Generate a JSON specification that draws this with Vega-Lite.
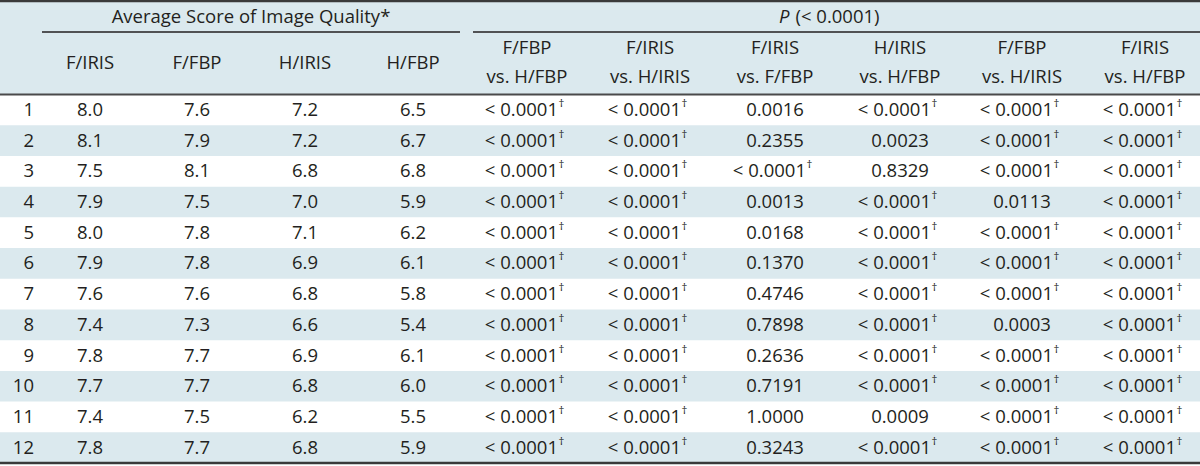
{
  "$schema": "https://vega.github.io/schema/vega-lite/v6.json",
  "width": 1200,
  "height": 466,
  "padding": 0,
  "autosize": {"type": "none"},
  "background": "white",
  "config": {
    "view": {"stroke": null},
    "text": {"font": "Open Sans", "fontSize": 18.5, "color": "#231f20"},
    "axis": {"disable": true}
  },
  "datasets": {
    "rows": [
      {"row": 1}, {"row": 2}, {"row": 3}, {"row": 4}, {"row": 5}, {"row": 6},
      {"row": 7}, {"row": 8}, {"row": 9}, {"row": 10}, {"row": 11}, {"row": 12}
    ],
    "avgHeaders": [
      {"col": 1, "text": "F/IRIS"},
      {"col": 2, "text": "F/FBP"},
      {"col": 3, "text": "H/IRIS"},
      {"col": 4, "text": "H/FBP"}
    ],
    "pHeaders": [
      {"col": 5, "top": "F/FBP", "bottom": "vs. H/FBP"},
      {"col": 6, "top": "F/IRIS", "bottom": "vs. H/IRIS"},
      {"col": 7, "top": "F/IRIS", "bottom": "vs. F/FBP"},
      {"col": 8, "top": "H/IRIS", "bottom": "vs. H/FBP"},
      {"col": 9, "top": "F/FBP", "bottom": "vs. H/IRIS"},
      {"col": 10, "top": "F/IRIS", "bottom": "vs. H/FBP"}
    ],
    "cells": [
      {"row": 1, "col": 1, "text": "8.0", "dag": 0},
      {"row": 1, "col": 2, "text": "7.6", "dag": 0},
      {"row": 1, "col": 3, "text": "7.2", "dag": 0},
      {"row": 1, "col": 4, "text": "6.5", "dag": 0},
      {"row": 1, "col": 5, "text": "< 0.0001", "dag": 1},
      {"row": 1, "col": 6, "text": "< 0.0001", "dag": 1},
      {"row": 1, "col": 7, "text": "0.0016", "dag": 0},
      {"row": 1, "col": 8, "text": "< 0.0001", "dag": 1},
      {"row": 1, "col": 9, "text": "< 0.0001", "dag": 1},
      {"row": 1, "col": 10, "text": "< 0.0001", "dag": 1},

      {"row": 2, "col": 1, "text": "8.1", "dag": 0},
      {"row": 2, "col": 2, "text": "7.9", "dag": 0},
      {"row": 2, "col": 3, "text": "7.2", "dag": 0},
      {"row": 2, "col": 4, "text": "6.7", "dag": 0},
      {"row": 2, "col": 5, "text": "< 0.0001", "dag": 1},
      {"row": 2, "col": 6, "text": "< 0.0001", "dag": 1},
      {"row": 2, "col": 7, "text": "0.2355", "dag": 0},
      {"row": 2, "col": 8, "text": "0.0023", "dag": 0},
      {"row": 2, "col": 9, "text": "< 0.0001", "dag": 1},
      {"row": 2, "col": 10, "text": "< 0.0001", "dag": 1},

      {"row": 3, "col": 1, "text": "7.5", "dag": 0},
      {"row": 3, "col": 2, "text": "8.1", "dag": 0},
      {"row": 3, "col": 3, "text": "6.8", "dag": 0},
      {"row": 3, "col": 4, "text": "6.8", "dag": 0},
      {"row": 3, "col": 5, "text": "< 0.0001", "dag": 1},
      {"row": 3, "col": 6, "text": "< 0.0001", "dag": 1},
      {"row": 3, "col": 7, "text": "< 0.0001", "dag": 1},
      {"row": 3, "col": 8, "text": "0.8329", "dag": 0},
      {"row": 3, "col": 9, "text": "< 0.0001", "dag": 1},
      {"row": 3, "col": 10, "text": "< 0.0001", "dag": 1},

      {"row": 4, "col": 1, "text": "7.9", "dag": 0},
      {"row": 4, "col": 2, "text": "7.5", "dag": 0},
      {"row": 4, "col": 3, "text": "7.0", "dag": 0},
      {"row": 4, "col": 4, "text": "5.9", "dag": 0},
      {"row": 4, "col": 5, "text": "< 0.0001", "dag": 1},
      {"row": 4, "col": 6, "text": "< 0.0001", "dag": 1},
      {"row": 4, "col": 7, "text": "0.0013", "dag": 0},
      {"row": 4, "col": 8, "text": "< 0.0001", "dag": 1},
      {"row": 4, "col": 9, "text": "0.0113", "dag": 0},
      {"row": 4, "col": 10, "text": "< 0.0001", "dag": 1},

      {"row": 5, "col": 1, "text": "8.0", "dag": 0},
      {"row": 5, "col": 2, "text": "7.8", "dag": 0},
      {"row": 5, "col": 3, "text": "7.1", "dag": 0},
      {"row": 5, "col": 4, "text": "6.2", "dag": 0},
      {"row": 5, "col": 5, "text": "< 0.0001", "dag": 1},
      {"row": 5, "col": 6, "text": "< 0.0001", "dag": 1},
      {"row": 5, "col": 7, "text": "0.0168", "dag": 0},
      {"row": 5, "col": 8, "text": "< 0.0001", "dag": 1},
      {"row": 5, "col": 9, "text": "< 0.0001", "dag": 1},
      {"row": 5, "col": 10, "text": "< 0.0001", "dag": 1},

      {"row": 6, "col": 1, "text": "7.9", "dag": 0},
      {"row": 6, "col": 2, "text": "7.8", "dag": 0},
      {"row": 6, "col": 3, "text": "6.9", "dag": 0},
      {"row": 6, "col": 4, "text": "6.1", "dag": 0},
      {"row": 6, "col": 5, "text": "< 0.0001", "dag": 1},
      {"row": 6, "col": 6, "text": "< 0.0001", "dag": 1},
      {"row": 6, "col": 7, "text": "0.1370", "dag": 0},
      {"row": 6, "col": 8, "text": "< 0.0001", "dag": 1},
      {"row": 6, "col": 9, "text": "< 0.0001", "dag": 1},
      {"row": 6, "col": 10, "text": "< 0.0001", "dag": 1},

      {"row": 7, "col": 1, "text": "7.6", "dag": 0},
      {"row": 7, "col": 2, "text": "7.6", "dag": 0},
      {"row": 7, "col": 3, "text": "6.8", "dag": 0},
      {"row": 7, "col": 4, "text": "5.8", "dag": 0},
      {"row": 7, "col": 5, "text": "< 0.0001", "dag": 1},
      {"row": 7, "col": 6, "text": "< 0.0001", "dag": 1},
      {"row": 7, "col": 7, "text": "0.4746", "dag": 0},
      {"row": 7, "col": 8, "text": "< 0.0001", "dag": 1},
      {"row": 7, "col": 9, "text": "< 0.0001", "dag": 1},
      {"row": 7, "col": 10, "text": "< 0.0001", "dag": 1},

      {"row": 8, "col": 1, "text": "7.4", "dag": 0},
      {"row": 8, "col": 2, "text": "7.3", "dag": 0},
      {"row": 8, "col": 3, "text": "6.6", "dag": 0},
      {"row": 8, "col": 4, "text": "5.4", "dag": 0},
      {"row": 8, "col": 5, "text": "< 0.0001", "dag": 1},
      {"row": 8, "col": 6, "text": "< 0.0001", "dag": 1},
      {"row": 8, "col": 7, "text": "0.7898", "dag": 0},
      {"row": 8, "col": 8, "text": "< 0.0001", "dag": 1},
      {"row": 8, "col": 9, "text": "0.0003", "dag": 0},
      {"row": 8, "col": 10, "text": "< 0.0001", "dag": 1},

      {"row": 9, "col": 1, "text": "7.8", "dag": 0},
      {"row": 9, "col": 2, "text": "7.7", "dag": 0},
      {"row": 9, "col": 3, "text": "6.9", "dag": 0},
      {"row": 9, "col": 4, "text": "6.1", "dag": 0},
      {"row": 9, "col": 5, "text": "< 0.0001", "dag": 1},
      {"row": 9, "col": 6, "text": "< 0.0001", "dag": 1},
      {"row": 9, "col": 7, "text": "0.2636", "dag": 0},
      {"row": 9, "col": 8, "text": "< 0.0001", "dag": 1},
      {"row": 9, "col": 9, "text": "< 0.0001", "dag": 1},
      {"row": 9, "col": 10, "text": "< 0.0001", "dag": 1},

      {"row": 10, "col": 1, "text": "7.7", "dag": 0},
      {"row": 10, "col": 2, "text": "7.7", "dag": 0},
      {"row": 10, "col": 3, "text": "6.8", "dag": 0},
      {"row": 10, "col": 4, "text": "6.0", "dag": 0},
      {"row": 10, "col": 5, "text": "< 0.0001", "dag": 1},
      {"row": 10, "col": 6, "text": "< 0.0001", "dag": 1},
      {"row": 10, "col": 7, "text": "0.7191", "dag": 0},
      {"row": 10, "col": 8, "text": "< 0.0001", "dag": 1},
      {"row": 10, "col": 9, "text": "< 0.0001", "dag": 1},
      {"row": 10, "col": 10, "text": "< 0.0001", "dag": 1},

      {"row": 11, "col": 1, "text": "7.4", "dag": 0},
      {"row": 11, "col": 2, "text": "7.5", "dag": 0},
      {"row": 11, "col": 3, "text": "6.2", "dag": 0},
      {"row": 11, "col": 4, "text": "5.5", "dag": 0},
      {"row": 11, "col": 5, "text": "< 0.0001", "dag": 1},
      {"row": 11, "col": 6, "text": "< 0.0001", "dag": 1},
      {"row": 11, "col": 7, "text": "1.0000", "dag": 0},
      {"row": 11, "col": 8, "text": "0.0009", "dag": 0},
      {"row": 11, "col": 9, "text": "< 0.0001", "dag": 1},
      {"row": 11, "col": 10, "text": "< 0.0001", "dag": 1},

      {"row": 12, "col": 1, "text": "7.8", "dag": 0},
      {"row": 12, "col": 2, "text": "7.7", "dag": 0},
      {"row": 12, "col": 3, "text": "6.8", "dag": 0},
      {"row": 12, "col": 4, "text": "5.9", "dag": 0},
      {"row": 12, "col": 5, "text": "< 0.0001", "dag": 1},
      {"row": 12, "col": 6, "text": "< 0.0001", "dag": 1},
      {"row": 12, "col": 7, "text": "0.3243", "dag": 0},
      {"row": 12, "col": 8, "text": "< 0.0001", "dag": 1},
      {"row": 12, "col": 9, "text": "< 0.0001", "dag": 1},
      {"row": 12, "col": 10, "text": "< 0.0001", "dag": 1}
    ]
  },
  "resolve": {"scale": {"y": "independent"}},
  "layer": [
    {
      "data": {"name": "rows"},
      "transform": [{"filter": "datum.row % 2 == 0"}],
      "mark": {"type": "rect", "color": "#dbe9ee"},
      "encoding": {
        "y": {"field": "row", "type": "ordinal", "scale": {"domain": [1,2,3,4,5,6,7,8,9,10,11,12], "range": [94.5, 463], "paddingInner": 0, "paddingOuter": 0}},
        "x": {"datum": -1, "type": "quantitative", "scale": {"type": "linear", "domain": [-1, 0, 0.5, 1, 2, 3, 4, 4.5, 5, 6, 7, 8, 9, 10, 11], "range": [0, 34, 42, 90, 197, 305, 413, 466.5, 527, 650, 775, 900, 1022, 1145, 1200], "zero": false, "nice": false}},
        "x2": {"datum": 11}
      }
    },
    {
      "encoding": {
        "x": {"type": "quantitative", "scale": {"type": "linear", "domain": [-1, 0, 0.5, 1, 2, 3, 4, 4.5, 5, 6, 7, 8, 9, 10, 11], "range": [0, 34, 42, 90, 197, 305, 413, 466.5, 527, 650, 775, 900, 1022, 1145, 1200], "zero": false, "nice": false}},
        "y": {"type": "quantitative", "scale": {"type": "linear", "domain": [-3.5, -3, -2.5, -2, -1.5, -1, 0.5, 12.5], "range": [1, 17, 32, 48, 63, 77, 94.5, 463], "zero": false, "nice": false}}
      },
      "layer": [
        {
          "data": {"values": [{}]},
          "mark": {"type": "rect", "color": "#dbe9ee"},
          "encoding": {
            "x": {"datum": -1}, "x2": {"datum": 11},
            "y": {"datum": -3.5}, "y2": {"datum": 0.5}
          }
        },
        {
          "data": {"values": [{}]},
          "mark": {"type": "rule", "color": "#3a3a3a", "strokeWidth": 2.5},
          "encoding": {"x": {"datum": -1}, "x2": {"datum": 11}, "y": {"datum": -3.5}}
        },
        {
          "data": {"values": [{}]},
          "mark": {"type": "rule", "color": "#4a4a4a", "strokeWidth": 1.8},
          "encoding": {"x": {"datum": -1}, "x2": {"datum": 11}, "y": {"datum": 0.5}}
        },
        {
          "data": {"values": [{}]},
          "mark": {"type": "rule", "color": "#3a3a3a", "strokeWidth": 2.5},
          "encoding": {"x": {"datum": -1}, "x2": {"datum": 11}, "y": {"datum": 12.5}}
        },
        {
          "data": {"values": [{}]},
          "mark": {"type": "rule", "color": "#231f20", "strokeWidth": 1.3, "x2Offset": -6.5},
          "encoding": {"x": {"datum": 0.5}, "x2": {"datum": 4.5}, "y": {"datum": -2.5}}
        },
        {
          "data": {"values": [{}]},
          "mark": {"type": "rule", "color": "#231f20", "strokeWidth": 1.3, "xOffset": 6.5},
          "encoding": {"x": {"datum": 4.5}, "x2": {"datum": 11}, "y": {"datum": -2.5}}
        },
        {
          "data": {"values": [{"label": "Average Score of Image Quality*"}]},
          "mark": {"type": "text", "align": "center"},
          "encoding": {"x": {"datum": 2.5}, "y": {"datum": -3}, "text": {"field": "label"}}
        },
        {
          "data": {"values": [{"label": "P"}]},
          "mark": {"type": "text", "align": "right", "fontStyle": "italic", "dx": -48},
          "encoding": {"x": {"datum": 7.5}, "y": {"datum": -3}, "text": {"field": "label"}}
        },
        {
          "data": {"values": [{"label": "(< 0.0001)"}]},
          "mark": {"type": "text", "align": "left", "dx": -42},
          "encoding": {"x": {"datum": 7.5}, "y": {"datum": -3}, "text": {"field": "label"}}
        },
        {
          "data": {"name": "avgHeaders"},
          "mark": {"type": "text", "align": "center"},
          "encoding": {"x": {"field": "col"}, "y": {"datum": -1.5}, "text": {"field": "text"}}
        },
        {
          "data": {"name": "pHeaders"},
          "mark": {"type": "text", "align": "center"},
          "encoding": {"x": {"field": "col"}, "y": {"datum": -2}, "text": {"field": "top"}}
        },
        {
          "data": {"name": "pHeaders"},
          "mark": {"type": "text", "align": "center"},
          "encoding": {"x": {"field": "col"}, "y": {"datum": -1}, "text": {"field": "bottom"}}
        },
        {
          "data": {"name": "rows"},
          "mark": {"type": "text", "align": "right"},
          "encoding": {"x": {"datum": 0}, "y": {"field": "row"}, "text": {"field": "row"}}
        },
        {
          "data": {"name": "cells"},
          "transform": [{"filter": "datum.dag == 0"}],
          "mark": {"type": "text", "align": "center"},
          "encoding": {"x": {"field": "col"}, "y": {"field": "row"}, "text": {"field": "text"}}
        },
        {
          "data": {"name": "cells"},
          "transform": [{"filter": "datum.dag == 1"}],
          "mark": {"type": "text", "align": "right", "dx": 31},
          "encoding": {"x": {"field": "col"}, "y": {"field": "row"}, "text": {"field": "text"}}
        },
        {
          "data": {"name": "cells"},
          "transform": [{"filter": "datum.dag == 1"}],
          "mark": {"type": "text", "align": "left", "dx": 31.5, "dy": -6, "fontSize": 11.5},
          "encoding": {"x": {"field": "col"}, "y": {"field": "row"}, "text": {"value": "†"}}
        }
      ]
    }
  ]
}
